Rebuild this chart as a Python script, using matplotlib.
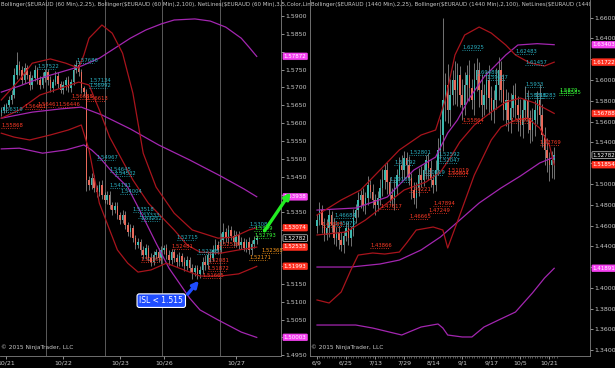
import numpy as np
import matplotlib
matplotlib.use("Agg")
from matplotlib import pyplot as plt
from matplotlib.patches import FancyArrowPatch

c_up = "#3cb8ae"
c_dn = "#e8695a"
c_wick = "#a0a0a0"
c_bb25 = "#a8141c"
c_bb100 = "#a326b0"
c_cyan = "#2ab2c4"
c_red = "#ff3a26"
c_tag_m = "#f540f0"
c_tag_r = "#ff2e1e"
c_txt = "#c8c8c8"

# ---- 60 min EURAUD (left) ----
open_L0 = 1.5630
close_L = [1.5637, 1.5644, 1.5651, 1.5665, 1.5679, 1.5735, 1.5763, 1.5749, 1.5721, 1.5754,
           1.5735, 1.5707, 1.5726, 1.5749, 1.5721, 1.5707, 1.5726, 1.5743, 1.5721, 1.5698,
           1.5715, 1.5732, 1.5710, 1.5693, 1.5707, 1.5721, 1.5698, 1.5715, 1.5749, 1.5763,
           1.5743, 1.5698, 1.5687, 1.5441, 1.5427, 1.5446, 1.5418, 1.5407, 1.5427, 1.5399,
           1.5385, 1.5399, 1.5371, 1.5357, 1.5368, 1.5343, 1.5329, 1.5343, 1.5315, 1.5295,
           1.5306, 1.5278, 1.5259, 1.5267, 1.5245, 1.5231, 1.5250, 1.5222, 1.5211, 1.5231,
           1.5239, 1.5222, 1.5245, 1.5250, 1.5231, 1.5217, 1.5239, 1.5222, 1.5211, 1.5228,
           1.5211, 1.5200, 1.5217, 1.5194, 1.5183, 1.5194, 1.5178, 1.5189, 1.5211, 1.5203,
           1.5231, 1.5222, 1.5245, 1.5259, 1.5245, 1.5273, 1.5295, 1.5278, 1.5301, 1.5284,
           1.5267, 1.5287, 1.5259, 1.5267, 1.5250, 1.5267, 1.5245, 1.5262, 1.5273, 1.5278]
wick_up_L = [8, 10, 6, 12, 15, 20, 35, 12, 10, 15,
             8, 12, 10, 14, 9, 11, 16, 10, 8, 12,
             9, 14, 10, 8, 12, 9, 11, 10, 18, 14,
             10, 8, 6, 10, 12, 15, 10, 8, 12, 14,
             9, 10, 12, 8, 10, 12, 9, 14, 10, 8,
             12, 10, 9, 11, 8, 10, 12, 9, 14, 10,
             8, 12, 10, 9, 11, 15, 10, 8, 12, 10,
             9, 14, 10, 8, 12, 10, 9, 11, 15, 20,
             10, 12, 15, 18, 10, 20, 25, 12, 15, 10,
             18, 12, 10, 15, 12, 10, 14, 12, 10, 8]
wick_dn_L = [10, 8, 12, 6, 10, 8, 12, 15, 10, 8,
             12, 14, 10, 9, 11, 12, 8, 10, 14, 12,
             10, 9, 12, 8, 10, 14, 12, 10, 8, 9,
             12, 14, 10, 30, 15, 12, 10, 14, 12, 10,
             8, 12, 10, 14, 9, 12, 10, 8, 12, 10,
             15, 12, 10, 9, 14, 12, 10, 9, 12, 8,
             10, 12, 15, 10, 12, 14, 10, 12, 15, 10,
             12, 14, 10, 12, 18, 10, 15, 12, 10, 14,
             12, 10, 9, 12, 10, 8, 12, 10, 14, 12,
             10, 15, 12, 10, 9, 12, 10, 14, 12, 10]

date_pos_L = [2, 24, 46, 63, 91]
date_lbl_L = ["10/21", "10/22", "10/23", "10/26", "10/27"]
session_L = [17.3, 40, 62.3, 84.6]

# band lines (bar index, price)
bb100_up_L = ([0, 7, 15, 23, 31, 38, 44, 50, 56, 62, 67, 75, 81, 87, 93, 96, 99],
              [1.5687, 1.5704, 1.5726, 1.5743, 1.5760, 1.5782, 1.5810, 1.5838, 1.5861, 1.5878,
               1.5889, 1.5892, 1.5886, 1.5869, 1.5838, 1.5813, 1.5787])
bb100_mid_L = ([0, 12, 23, 31, 39, 50, 61, 73, 85, 94, 99],
               [1.5614, 1.5631, 1.5640, 1.5645, 1.5623, 1.5584, 1.5539, 1.5497, 1.5452, 1.5416, 1.5394])
bb100_lo_L = ([0, 7, 16, 25, 32, 35, 38, 43, 49, 55, 60, 65, 69, 73, 77, 84, 93, 99],
              [1.5528, 1.5530, 1.5516, 1.5525, 1.5539, 1.5525, 1.5505, 1.5463, 1.5421, 1.5337,
               1.5264, 1.5194, 1.5152, 1.5110, 1.5077, 1.5049, 1.5015, 1.5000])
bb25_up_L = ([0, 7, 12, 19, 25, 30, 32, 34, 39, 43, 47, 51, 55, 60, 67, 74, 84, 90, 96, 99],
             [1.5665, 1.5721, 1.5768, 1.5780, 1.5768, 1.5754, 1.5791, 1.5838, 1.5875, 1.5852,
              1.5796, 1.5684, 1.5516, 1.5421, 1.5348, 1.5301, 1.5278, 1.5281, 1.5301, 1.5307])
bb25_mid_L = ([0, 7, 15, 23, 30, 34, 38, 42, 51, 57, 67, 72, 77, 85, 92, 99],
              [1.5614, 1.5637, 1.5679, 1.5698, 1.5715, 1.5707, 1.5637, 1.5561, 1.5441, 1.5376,
               1.5301, 1.5259, 1.5239, 1.5236, 1.5245, 1.5253])
bb25_lo_L = ([0, 5, 11, 19, 26, 31, 34, 38, 42, 45, 49, 53, 58, 64, 69, 77, 85, 92, 99],
             [1.5572, 1.5561, 1.5553, 1.5567, 1.5581, 1.5595, 1.5525, 1.5376, 1.5301, 1.5245,
              1.5208, 1.5183, 1.5189, 1.5208, 1.5194, 1.5172, 1.5172, 1.5178, 1.5199])

labels_hi_L = [(14, "1.57522"), (29, "1.57686"), (34, "1.57134"), (34, "1.56992"), (0, "1.56319"),
               (37, "1.54967"), (42, "1.54645"), (44, "1.54532"), (42, "1.54191"), (46, "1.54004"),
               (51, "1.53518"), (53, "1.53333"), (54, "1.53252"), (68, "1.52715"), (76, "1.52338"),
               (96, "1.53084")]
labels_lo_L = [(14, "1.56461"), (22, "1.56446"), (9, "1.56401"), (27, "1.56688"), (33, "1.56613"),
               (0, "1.55868"), (54, "1.52104"), (66, "1.52481"), (80, "1.52081"), (80, "1.51872"),
               (78, "1.51665"), (84, "1.52536")]
labels_or_L = [(101, "1.52368"), (96, "1.52171")]
labels_gr_L = [(98, "1.5299"), (98, "1.52793")]

tags_L = [(1.57872, c_tag_m), (1.53938, c_tag_m), (1.53074, c_tag_r), (1.52782, "black"),
          (1.52533, c_tag_r), (1.51993, c_tag_r), (1.50003, c_tag_m)]

# ---- 1440 min EURAUD (right) ----
open_R0 = 1.4600
close_R = [1.4653, 1.4749, 1.4605, 1.4509, 1.4576, 1.4701, 1.4605, 1.4480, 1.4538, 1.4461,
           1.4413, 1.4499, 1.4576, 1.4480, 1.4557, 1.4672, 1.4749, 1.4846, 1.4894, 1.4798,
           1.4865, 1.4990, 1.4923, 1.4846, 1.4798, 1.4865, 1.4961, 1.5038, 1.5134, 1.5019,
           1.4894, 1.4846, 1.4961, 1.5086, 1.5182, 1.5134, 1.5250, 1.5182, 1.5057, 1.4942,
           1.4865, 1.4961, 1.5086, 1.5038, 1.5134, 1.5230, 1.5153, 1.5038, 1.4990, 1.5134,
           1.5327, 1.5471, 1.5808, 1.5952, 1.5711, 1.5856, 1.6000, 1.5904, 1.6048, 1.5856,
           1.5760, 1.5952, 1.6048, 1.5923, 1.5808, 1.6000, 1.6096, 1.5904, 1.5760, 1.5856,
           1.6000, 1.5827, 1.5711, 1.5808, 1.5952, 1.6096, 1.5904, 1.5711, 1.5808, 1.5615,
           1.5731, 1.5856, 1.5760, 1.5663, 1.5567, 1.5711, 1.5808, 1.5634, 1.5519, 1.5615,
           1.5711, 1.5808, 1.5663, 1.5471, 1.5327, 1.5250, 1.5182, 1.5230, 1.5278]
wick_up_R = [60, 80, 50, 70, 90, 60, 40, 70, 50, 60,
             80, 50, 60, 70, 40, 90, 60, 80, 50, 70,
             60, 90, 50, 80, 60, 70, 90, 110, 60, 80,
             50, 70, 90, 60, 80, 100, 70, 60, 90, 50,
             80, 60, 70, 90, 60, 50, 70, 80, 60, 100,
             120, 150, 790, 120, 200, 150, 100, 180, 120, 90,
             150, 130, 100, 140, 90, 160, 120, 80, 150, 110,
             90, 140, 120, 100, 160, 130, 90, 150, 110, 80,
             140, 100, 120, 90, 150, 110, 130, 100, 80, 120,
             100, 90, 150, 110, 80, 120, 60, 90, 80]
wick_dn_R = [70, 50, 80, 60, 50, 90, 70, 60, 80, 90,
             60, 80, 50, 70, 80, 60, 50, 70, 80, 60,
             90, 70, 60, 80, 100, 60, 70, 80, 90, 120,
             80, 60, 100, 70, 60, 90, 80, 110, 70, 90,
             60, 100, 80, 70, 60, 90, 110, 70, 80, 60,
             50, 80, 150, 200, 120, 150, 100, 130, 150, 120,
             140, 100, 150, 120, 90, 140, 110, 160, 120, 100,
             130, 150, 100, 120, 90, 140, 120, 100, 150, 110,
             120, 90, 130, 150, 110, 120, 100, 140, 120, 110,
             150, 130, 110, 120, 140, 130, 150, 120, 180]

date_pos_R = [0, 12, 24, 36, 48, 60, 72, 84, 96]
date_lbl_R = ["6/9", "6/25", "7/13", "7/29", "8/14", "9/1", "9/17", "10/5", "10/21"]

bb100_up_R = ([0, 16, 29, 40, 49, 54, 58, 63, 69, 78, 83, 91, 98],
              [1.4749, 1.4769, 1.4874, 1.5134, 1.5259, 1.5490, 1.5615, 1.5827, 1.6029, 1.6241,
               1.6337, 1.6350, 1.6340])
bb100_mid_R = ([0, 14, 26, 34, 43, 51, 59, 67, 76, 84, 92, 98],
               [1.4201, 1.4201, 1.4230, 1.4268, 1.4365, 1.4490, 1.4653, 1.4817, 1.4961, 1.5076,
                1.5202, 1.5259])
bb100_lo_R = ([0, 16, 23, 35, 43, 50, 52, 54, 60, 64, 69, 75, 82, 89, 94, 98],
              [1.3643, 1.3643, 1.3614, 1.3547, 1.3624, 1.3653, 1.3614, 1.3547, 1.3528, 1.3528,
               1.3624, 1.3691, 1.3768, 1.3951, 1.4095, 1.4189])
bb25_up_R = ([0, 10, 18, 26, 34, 43, 49, 53, 57, 61, 67, 72, 78, 82, 88, 94, 98],
             [1.4701, 1.4846, 1.4942, 1.5134, 1.5327, 1.5471, 1.5519, 1.5808, 1.6241, 1.6433,
              1.6510, 1.6452, 1.6337, 1.6241, 1.6164, 1.6135, 1.6172])
bb25_mid_R = ([0, 12, 20, 28, 36, 45, 51, 55, 59, 65, 72, 78, 84, 90, 98],
              [1.4509, 1.4538, 1.4653, 1.4798, 1.4942, 1.5019, 1.5115, 1.5250, 1.5404, 1.5567,
               1.5692, 1.5788, 1.5827, 1.5779, 1.5679])
bb25_lo_R = ([0, 5, 10, 14, 17, 23, 28, 34, 37, 41, 48, 52, 54, 59, 65, 72, 76, 82, 87, 92, 96, 98],
             [1.3884, 1.3855, 1.3961, 1.4172, 1.4316, 1.4336, 1.4326, 1.4345, 1.4432, 1.4557,
              1.4586, 1.4557, 1.4384, 1.4701, 1.5086, 1.5423, 1.5548, 1.5615, 1.5634, 1.5538,
              1.5375, 1.5185])

labels_hi_R = [(60, "1.62925"), (66, "1.60480"), (70, "1.59957"), (82, "1.62483"), (86, "1.61457"),
               (86, "1.5933"), (86, "1.58316"), (90, "1.58283"), (38, "1.52801"), (50, "1.52592"),
               (50, "1.52047"), (44, "1.50819"), (32, "1.51792"), (30, "1.50166"), (7, "1.46684"),
               (7, "1.45979")]
labels_lo_R = [(60, "1.55864"), (80, "1.55898"), (92, "1.53769"), (54, "1.51019"), (54, "1.50804"),
               (38, "1.49221"), (48, "1.47894"), (46, "1.47249"), (26, "1.47617"), (38, "1.46665"),
               (2, "1.45880"), (22, "1.43866")]
labels_gr_R = [(100, "1.5879"), (100, "1.58585")]

tags_R = [(1.63403, c_tag_m), (1.61722, c_tag_r), (1.56788, c_tag_r), (1.52782, "black"),
          (1.51854, c_tag_r), (1.41891, c_tag_m)]


def candles(ax, op0, cl, wu, wd, w):
    cl = np.array(cl)
    op = np.concatenate([[op0], cl[:-1]])
    x = np.arange(len(cl))
    hi = np.maximum(op, cl) + np.array(wu) * 0.0001
    lo = np.minimum(op, cl) - np.array(wd) * 0.0001
    ax.vlines(x, lo, hi, color=c_wick, lw=0.5, zorder=2)
    body = cl - op
    cols = np.where(body >= 0, c_up, c_dn)
    ax.bar(x, body, bottom=op, width=w, color=cols, linewidth=0, zorder=3)


def netlabel(ax, x, t, col, ln):
    p = float(t)
    ax.text(x, p, t, color=col, fontsize=3.8, va="bottom", ha="left", zorder=5)
    ax.plot([x, x + ln], [p, p], ls=":", color=col, lw=0.6, zorder=5)


def style(ax, title, ylo, yhi, step, xlo, xhi, tags_list, clip_title):
    ax.set_facecolor("black")
    ax.set_xlim(xlo, xhi)
    ax.set_ylim(ylo, yhi)
    ax.yaxis.tick_right()
    ticks = np.round(np.arange(np.ceil(ylo / step) * step, yhi, step), 4)
    ax.set_yticks(ticks)
    # price labels hidden behind the value tags
    px = 356 / (yhi - ylo)
    lbls = []
    for t in ticks:
        hidden = any(abs(t - p) * px < 5.5 for p, c in tags_list)
        lbls.append("" if hidden else "%.4f" % t)
    ax.set_yticklabels(lbls)
    ax.tick_params(axis="y", colors=c_txt, labelsize=4.5, length=2, width=0.5, pad=1)
    ax.tick_params(axis="x", colors=c_txt, labelsize=4.5, length=2, width=0.5, pad=1)
    for s in ax.spines.values():
        s.set_color("#808080")
        s.set_linewidth(0.6)
    ax.spines["top"].set_visible(False)
    ax.spines["left"].set_visible(False)
    ax.text(0.003, 0.995, title, transform=ax.transAxes, color=c_txt, fontsize=4.0, va="top", ha="left",
            clip_on=clip_title)
    ax.text(0.003, 0.018, "\u00a9 2015 NinjaTrader, LLC", transform=ax.transAxes, color=c_txt,
            fontsize=4.2, va="bottom", ha="left")


def tags(ax, lst):
    tr = ax.get_yaxis_transform()
    for p, col in lst:
        ec = "#d0d0d0" if col == "black" else col
        ax.text(1.01, p, "%.5f" % p, transform=tr, color="white", fontsize=4.0, va="center", ha="left",
                zorder=10, bbox=dict(boxstyle="round,pad=0.15", fc=col, ec=ec, lw=0.5))


fig = plt.figure(figsize=(6.15, 3.68), dpi=100)
fig.patch.set_facecolor("black")
axL = fig.add_axes([0, 12 / 368, 281 / 615, 356 / 368])
axR = fig.add_axes([310 / 615, 12 / 368, 280 / 615, 356 / 368])

# left panel
style(axL, "Bollinger($EURAUD (60 Min),2,25), Bollinger($EURAUD (60 Min),2,100), NetLines($EURAUD (60 Min),3,5,Color,Line",
      1.4948, 1.5945, 0.005, -0.5, 108.4, tags_L, False)
for v in session_L:
    axL.axvline(v, color="#5a5a5a", lw=0.7, zorder=1)
for xs, ys in [bb100_up_L, bb100_mid_L, bb100_lo_L]:
    axL.plot(xs, ys, color=c_bb100, lw=0.9, zorder=4)
for xs, ys in [bb25_up_L, bb25_mid_L, bb25_lo_L]:
    axL.plot(xs, ys, color=c_bb25, lw=0.9, zorder=4)
candles(axL, open_L0, close_L, wick_up_L, wick_dn_L, 0.6)
for x, t in labels_hi_L:
    netlabel(axL, x, t, c_cyan, 7)
for x, t in labels_lo_L:
    netlabel(axL, x, t, c_red, 7)
for x, t in labels_or_L:
    netlabel(axL, x, t, "#ff9a1a", 7)
for x, t in labels_gr_L:
    netlabel(axL, x, t, "#38ff38", 6)
axL.set_xticks(date_pos_L)
axL.set_xticklabels(date_lbl_L)
tags(axL, tags_L)

axL.text(62, 1.5103, "ISL < 1.515", color="white", fontsize=5.5, ha="center", va="center", zorder=12,
         bbox=dict(boxstyle="round,pad=0.3", fc="#1f4dff", ec="white", lw=0.8))
a1 = FancyArrowPatch((71.5, 1.5115), (77.3, 1.5165), arrowstyle="-|>", mutation_scale=9,
                     color="#1f4dff", lw=2.4, zorder=12)
axL.add_patch(a1)
a2 = FancyArrowPatch((101.4, 1.5292), (112.7, 1.5413), arrowstyle="-|>", mutation_scale=9,
                     color="#22ee22", lw=2.4, zorder=12)
a2.set_clip_on(False)
axL.add_patch(a2)

# right panel
style(axR, "Bollinger($EURAUD (1440 Min),2,25), Bollinger($EURAUD (1440 Min),2,100), NetLines($EURAUD (1440 Min),3,5,Col",
      1.3345, 1.677, 0.02, -2.9, 112.8, tags_R, True)
axR.spines["left"].set_visible(True)
for xs, ys in [bb100_up_R, bb100_mid_R, bb100_lo_R]:
    axR.plot(xs, ys, color=c_bb100, lw=0.9, zorder=4)
for xs, ys in [bb25_up_R, bb25_mid_R, bb25_lo_R]:
    axR.plot(xs, ys, color=c_bb25, lw=0.9, zorder=4)
candles(axR, open_R0, close_R, wick_up_R, wick_dn_R, 0.6)
for x, t in labels_hi_R:
    netlabel(axR, x, t, c_cyan, 8)
for x, t in labels_lo_R:
    netlabel(axR, x, t, c_red, 8)
for x, t in labels_gr_R:
    netlabel(axR, x, t, "#38ff38", 6)
axR.set_xticks(date_pos_R)
axR.set_xticklabels(date_lbl_R)
axR.set_xticks(np.arange(0, 100, 1), minor=True)
axR.tick_params(axis="x", which="minor", colors="#909090", length=1.5, width=0.4)
tags(axR, tags_R)

plt.savefig("out.png", dpi=100, facecolor="black")
